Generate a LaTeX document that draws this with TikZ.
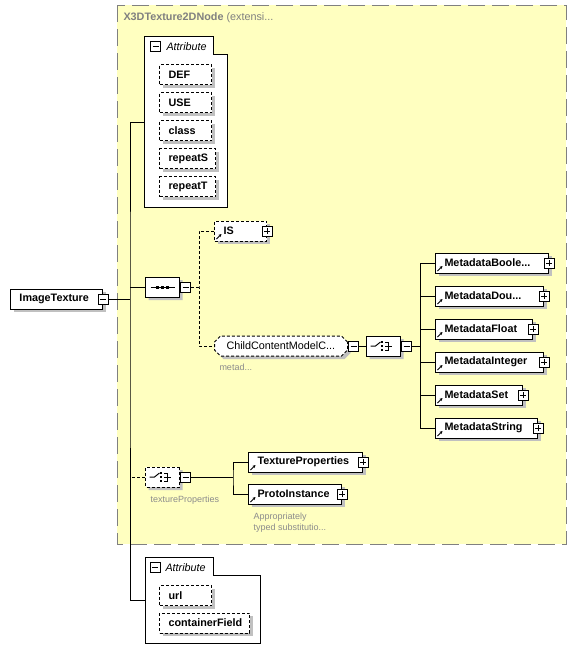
\documentclass[tikz,border=0pt]{standalone}
\usepackage{fontspec}
\setmainfont{Liberation Sans}
\usetikzlibrary{shapes.misc,shadows,arrows.meta}
\definecolor{groupfill}{RGB}{255,255,192}
\definecolor{groupline}{RGB}{128,128,128}
\definecolor{notegrey}{RGB}{140,140,140}
\definecolor{boxshadow}{RGB}{192,192,192}
\newcommand{\dgmfont}{\fontsize{10.8pt}{13pt}\selectfont}
\newcommand{\notefont}{\fontsize{9pt}{11pt}\selectfont}
% switch symbol inside a choice compositor
\newcommand{\choicesym}[1]{%
  \draw (#1.center) ++(-13,0) -- ++(5,0) -- ++(5,-4);
  \foreach \dy in {-4,0,4} \fill ([shift={(-1.5,\dy)}]#1.center) ++(-1,-1) rectangle ++(2,2);
  \draw ([shift={(1.5,-4)}]#1.center) -- ++(3,0) -- ++(0,8) -- ++(-3,0);
  \draw ([xshift=1.5pt]#1.center) -- ++(7,0);}
\begin{document}
\begin{tikzpicture}[x=1pt, y=-1pt, line width=1pt, font=\dgmfont]
\tikzstyle{elem} = [draw, fill=white, font=\dgmfont\bfseries, minimum height=20pt, inner xsep=9pt, inner ysep=0pt, align=left, anchor=west, drop shadow={shadow xshift=3pt, shadow yshift=-3pt, fill=boxshadow, opacity=1}] % element box
\tikzstyle{opt} = [dash pattern=on 3pt off 2pt] % optional border / connector
\tikzstyle{ref} = [path picture={\draw[solid, line width=1pt, -{Stealth[length=3pt, width=3pt]}] ([shift={(2pt,2pt)}]path picture bounding box.south west) -- ++(5pt,5pt);}] % small arrow for referenced types
\tikzstyle{btn} = [draw, fill=white, solid, minimum size=10pt, inner sep=0pt] % expand / collapse button
\tikzstyle{minusbtn} = [btn, path picture={\draw ([xshift=2pt]path picture bounding box.west) -- ([xshift=-2pt]path picture bounding box.east);}]
\tikzstyle{plusbtn} = [btn, path picture={\draw ([xshift=2pt]path picture bounding box.west) -- ([xshift=-2pt]path picture bounding box.east); \draw ([yshift=2pt]path picture bounding box.south) -- ([yshift=-2pt]path picture bounding box.north);}]
\tikzstyle{octo} = [draw, fill=white, chamfered rectangle, chamfered rectangle xsep=5pt, chamfered rectangle ysep=5pt, minimum width=34pt, minimum height=20pt, inner sep=0pt, anchor=west, drop shadow={shadow xshift=3pt, shadow yshift=-3pt, fill=boxshadow, opacity=1}] % compositor
\tikzstyle{attrbox} = [inner sep=0pt] % frame of an attribute group
\tikzstyle{note} = [anchor=west, inner sep=0pt, text=notegrey, font=\notefont] % grey annotation
\useasboundingbox (0,0) rectangle (576,662);
% yellow group of the base type
\draw[draw=groupline, fill=groupfill, dash pattern=on 17pt off 7pt] (117,5) rectangle (566,544);
\node(title)[anchor=west, inner sep=0pt, text=groupline] at (123,18){\textbf{X3DTexture2DNode} (extensi...};
% first attribute group
\node(attrA)[attrbox, minimum width=82pt, minimum height=170pt] at (186,122){};
\draw[fill=white] (attrA.north west) -- ++(69,0) |- ([yshift=-18pt]attrA.north east) -- (attrA.south east) -- (attrA.south west) -- cycle;
\node(attrAMinus)[minusbtn] at (155.5,46.5){};
\node(attrAHead)[anchor=west, inner sep=0pt, font=\dgmfont\itshape] at (166,46.5){Attribute};
\foreach \nm/\y/\tw in {DEF/74.5/34, USE/102.5/34, class/130.5/34, repeatS/158.5/38, repeatT/186.5/38}
  \node(\nm)[elem, opt, text width=\tw pt] at (159,\y){\nm};
% root element
\node(imgTex)[elem, text width=74pt] at (10,299){ImageTexture};
\node(itMinus)[minusbtn] at (imgTex.east){};
\coordinate(trunk) at (130,299);
% sequence with IS and the metadata child
\node(seq)[octo] at (145,287){};
\draw ([xshift=-12pt]seq.center) -- ([xshift=12pt]seq.center);
\foreach \dx in {-5,0,5} \fill ([xshift=\dx pt]seq.center) ++(-1.5,-1.5) rectangle ++(3,3);
\node(seqMinus)[minusbtn, anchor=west] at (seq.east){};
\coordinate(seqFork) at (199,287);
\node(IS)[elem, opt, ref, text width=34pt] at (214,231){IS};
\node(isPlus)[plusbtn] at (IS.east){};
\node(ccm)[elem, opt, chamfered rectangle, chamfered rectangle xsep=3pt, chamfered rectangle ysep=3pt, font=\dgmfont, text width=109pt] at (214,346){ChildContentModelC...};
\node(ccmMinus)[minusbtn, anchor=west] at (ccm.east){};
\node(ccmNote)[note] at (219,367){metad...};
% choice of metadata nodes
\node(choice)[octo] at (366,346){};
\choicesym{choice}
\node(choiceMinus)[minusbtn, anchor=west] at (choice.east){};
\coordinate(mdFork) at (420,346);
\foreach \nm/\txt/\tw [count=\k from 0] in {mdBool/{MetadataBoole...}/95, mdDouble/{MetadataDou...}/90, mdFloat/MetadataFloat/79, mdInt/MetadataInteger/90, mdSet/MetadataSet/69, mdString/MetadataString/84}{
  \node(\nm)[elem, ref, text width=\tw pt] at (435,263+33*\k){\txt};
  \node(\nm-plus)[plusbtn] at (\nm.east){};
  \draw (\nm.west) -| (mdFork); % branch of the choice
}
% choice of texture properties
\node(texChoice)[octo, opt] at (145,477){};
\choicesym{texChoice}
\node(texMinus)[minusbtn, anchor=west] at (texChoice.east){};
\node(texNote)[note] at (150,500){textureProperties};
\coordinate(texFork) at (233,477);
\node(texProps)[elem, ref, text width=96pt] at (248,462){TextureProperties};
\node(tpPlus)[plusbtn] at (texProps.east){};
\node(protoInst)[elem, ref, text width=75pt] at (248,494){ProtoInstance};
\node(piPlus)[plusbtn] at (protoInst.east){};
\node(protoNote)[note, align=left] at (253,522.5){Appropriately\\typed substitutio...};
% second attribute group
\node(attrB)[attrbox, minimum width=114pt, minimum height=85pt] at (203,600.5){};
\draw[fill=white] (attrB.north west) -- ++(68,0) |- ([yshift=-18pt]attrB.north east) -- (attrB.south east) -- (attrB.south west) -- cycle;
\node(attrBMinus)[minusbtn] at (155,567.5){};
\node(attrBHead)[anchor=west, inner sep=0pt, font=\dgmfont\itshape] at (165,567.5){Attribute};
\node(url)[elem, opt, text width=34pt] at (159,595.5){url};
\node(cField)[elem, opt, text width=72pt] at (159,623){containerField};
% connectors
\draw (itMinus.east) -- (trunk);
\draw (attrA.west) -| (trunk) |- (attrB.west);
\draw (seq.west) -- (seq.west -| trunk);
\draw[opt] (texChoice.west) -- (texChoice.west -| trunk);
\draw[opt] (seqMinus.east) -- (seqFork);
\draw[opt] (IS.west) -| (seqFork) |- (ccm.west);
\draw (ccmMinus.east) -- (choice.west);
\draw (choiceMinus.east) -- (mdFork);
\draw (texMinus.east) -- (texFork);
\draw (texProps.west) -| (texFork) |- (protoInst.west);
\end{tikzpicture}
\end{document}
